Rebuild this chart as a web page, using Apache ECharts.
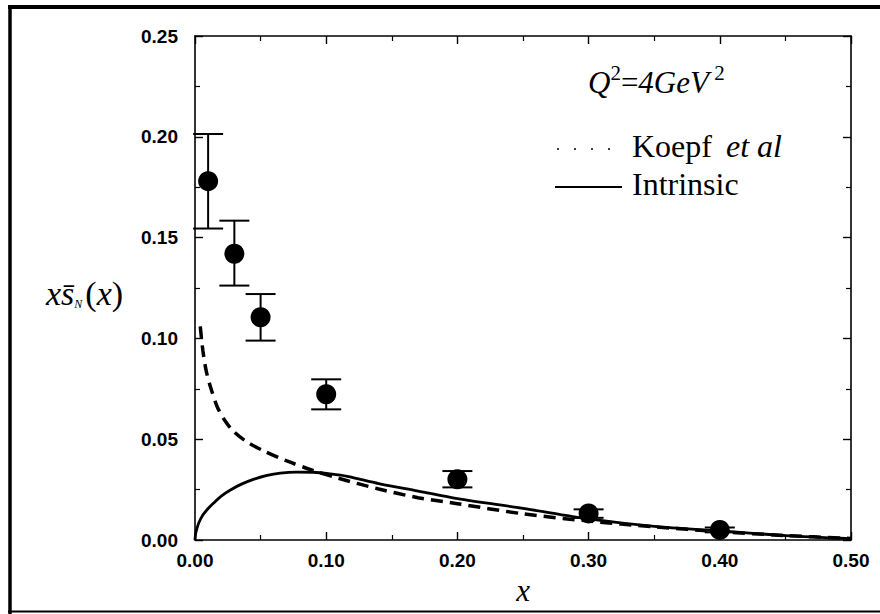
<!DOCTYPE html>
<html>
<head>
<meta charset="utf-8">
<script src="https://cdn.jsdelivr.net/npm/echarts@6/dist/echarts.min.js"></script>
<style>html,body{margin:0;padding:0;background:#fff;}#c{width:880px;height:614px;}</style>
</head>
<body>
<div id="c"></div>
<script>
// Data points with error bars
const dataX = [0.01, 0.03, 0.05, 0.10, 0.20, 0.30, 0.40];
const dataY = [0.178, 0.142, 0.1105, 0.0723, 0.0301, 0.0132, 0.005];
const errLow = [0.1545, 0.1262, 0.0989, 0.0648, 0.0261, 0.0110, 0.0038];
const errHigh = [0.2014, 0.1584, 0.1220, 0.0797, 0.0342, 0.0152, 0.0062];

// Koepf et al (dashed)
const koepfX = [0.004, 0.006, 0.0085, 0.012, 0.017, 0.023, 0.03, 0.04, 0.052, 0.07, 0.09, 0.11, 0.14, 0.17, 0.20, 0.25, 0.30, 0.35, 0.40, 0.45, 0.50];
const koepfY = [0.106, 0.094, 0.084, 0.0755, 0.066, 0.059, 0.0535, 0.0485, 0.0443, 0.0392, 0.0345, 0.0305, 0.0253, 0.021, 0.018, 0.013, 0.0094, 0.0065, 0.0042, 0.0022, 0.0008];

// Intrinsic (solid)
const intrX = [0, 0.0005, 0.0015, 0.003, 0.006, 0.01, 0.014, 0.02, 0.027, 0.035, 0.045, 0.055, 0.065, 0.077, 0.09, 0.103, 0.116, 0.14, 0.17, 0.20, 0.25, 0.30, 0.35, 0.40, 0.45, 0.50];
const intrY = [0, 0.0032, 0.0058, 0.0087, 0.0124, 0.0156, 0.0182, 0.0218, 0.0248, 0.0276, 0.0302, 0.0321, 0.0332, 0.0337, 0.0336, 0.0328, 0.0316, 0.028, 0.0243, 0.0205, 0.0157, 0.0105, 0.0068, 0.0045, 0.0022, 0.0007];

// Axis ticks
const xTicks = ['0.00', '0.10', '0.20', '0.30', '0.40', '0.50'];
const yTicks = ['0.00', '0.05', '0.10', '0.15', '0.20', '0.25'];

const legendTitle = '{i|Q}{sup|2}{n|=}{i|4GeV}{sup| 2}';
const legendNames = ['Koepf', 'Intrinsic'];

const zip = (a, b) => a.map((v, i) => [v, b[i]]);

const chart = echarts.init(document.getElementById('c'), null, {renderer: 'svg'});

const tickFont = {fontFamily: 'Liberation Sans, Arial, sans-serif', fontWeight: 'bold', fontSize: 19, color: '#000'};
const axisCommon = {
  type: 'value',
  axisLine: {show: true, onZero: false, lineStyle: {color: '#000', width: 1.6}},
  axisTick: {show: true, inside: true, length: 8, lineStyle: {color: '#000', width: 1.4}},
  minorTick: {show: true, splitNumber: 2, length: 5, lineStyle: {color: '#000', width: 1.2}},
  splitLine: {show: false}
};

const option = {
  animation: false,
  backgroundColor: '#fff',
  grid: {left: 195, right: 29, top: 36, bottom: 74, containLabel: false},
  xAxis: [
    Object.assign({}, axisCommon, {
      min: 0, max: 0.5, interval: 0.1, position: 'bottom',
      axisLabel: Object.assign({}, tickFont, {margin: 11, formatter: (v) => xTicks[Math.round(v / 0.1)]}),
      name: 'x', nameLocation: 'middle', nameGap: 35,
      nameTextStyle: {fontFamily: 'Liberation Serif, Times New Roman, serif', fontStyle: 'italic', fontSize: 31, color: '#000'}
    }),
    Object.assign({}, axisCommon, {
      min: 0, max: 0.5, interval: 0.1, position: 'top', axisLabel: {show: false}
    })
  ],
  yAxis: [
    Object.assign({}, axisCommon, {
      min: 0, max: 0.25, interval: 0.05, position: 'left',
      axisLabel: Object.assign({}, tickFont, {margin: 17, formatter: (v) => yTicks[Math.round(v / 0.05)]})
    }),
    Object.assign({}, axisCommon, {
      min: 0, max: 0.25, interval: 0.05, position: 'right', axisLabel: {show: false}
    })
  ],
  series: [
    {
      name: legendNames[0], type: 'line', data: zip(koepfX, koepfY),
      showSymbol: false, smooth: 0.3,
      lineStyle: {color: '#000', width: 3.5, type: [12, 7]}, z: 3
    },
    {
      name: legendNames[1], type: 'line', data: zip(intrX, intrY),
      showSymbol: false, smooth: 0.3,
      lineStyle: {color: '#000', width: 2.8, type: 'solid'}, z: 3
    },
    {
      type: 'custom',
      data: dataX.map((x, i) => [x, errLow[i], errHigh[i]]),
      renderItem: function (params, api) {
        const x = api.value(0);
        const lo = api.coord([x, api.value(1)]);
        const hi = api.coord([x, api.value(2)]);
        const hw = 15;
        const st = {stroke: '#000', lineWidth: 2};
        return {
          type: 'group',
          children: [
            {type: 'line', shape: {x1: lo[0], y1: lo[1], x2: hi[0], y2: hi[1]}, style: st},
            {type: 'line', shape: {x1: lo[0] - hw, y1: lo[1], x2: lo[0] + hw, y2: lo[1]}, style: st},
            {type: 'line', shape: {x1: hi[0] - hw, y1: hi[1], x2: hi[0] + hw, y2: hi[1]}, style: st}
          ]
        };
      },
      z: 4
    },
    {
      type: 'scatter', data: zip(dataX, dataY), symbol: 'circle', symbolSize: 20,
      itemStyle: {color: '#000', opacity: 1}, z: 5
    }
  ],
  graphic: [
    // outer frame
    {type: 'line', shape: {x1: 8, y1: 7, x2: 880, y2: 7}, style: {stroke: '#000', lineWidth: 4}},
    {type: 'line', shape: {x1: 10, y1: 5, x2: 10, y2: 614}, style: {stroke: '#000', lineWidth: 3.5}},
    {type: 'line', shape: {x1: 8, y1: 611.5, x2: 880, y2: 611.5}, style: {stroke: '#000', lineWidth: 2}},
    // y-axis label
    {
      type: 'text', left: 46, top: 276,
      style: {
        text: '{i|x}{i|s\u0304}{s|N}{n|(}{i|x}{n|)}',
        rich: {
          i: {fontFamily: 'Liberation Serif, serif', fontStyle: 'italic', fontSize: 34, fill: '#000', verticalAlign: 'bottom', lineHeight: 38},
          n: {fontFamily: 'Liberation Serif, serif', fontSize: 34, fill: '#000', verticalAlign: 'bottom', lineHeight: 38},
          s: {fontFamily: 'Liberation Serif, serif', fontStyle: 'italic', fontSize: 12, fill: '#000', verticalAlign: 'bottom', lineHeight: 38, padding: [0, 3, 0, 0]}
        }
      }
    },
    // legend title
    {
      type: 'text', left: 588, top: 62,
      style: {
        text: legendTitle,
        rich: {
          i: {fontFamily: 'Liberation Serif, serif', fontStyle: 'italic', fontSize: 31, fill: '#000', verticalAlign: 'bottom', lineHeight: 36},
          n: {fontFamily: 'Liberation Serif, serif', fontSize: 31, fill: '#000', verticalAlign: 'bottom', lineHeight: 36},
          sup: {fontFamily: 'Liberation Serif, serif', fontSize: 21, fill: '#000', verticalAlign: 'top', lineHeight: 36}
        }
      }
    },
    // legend entries
    {type: 'line', shape: {x1: 557, y1: 149, x2: 620, y2: 149}, style: {stroke: '#000', lineWidth: 1.5, lineDash: [2, 15]}},
    {
      type: 'text', left: 632, top: 130,
      style: {
        text: '{n|Koepf }{i|et al}',
        rich: {
          i: {fontFamily: 'Liberation Serif, serif', fontStyle: 'italic', fontSize: 32, fill: '#000'},
          n: {fontFamily: 'Liberation Serif, serif', fontSize: 32, fill: '#000', padding: [0, 6, 0, 0]}
        }
      }
    },
    {type: 'line', shape: {x1: 555, y1: 187, x2: 622, y2: 187}, style: {stroke: '#000', lineWidth: 2}},
    {
      type: 'text', left: 632, top: 168,
      style: {text: 'Intrinsic', fontFamily: 'Liberation Serif, serif', fontSize: 32, fill: '#000'}
    }
  ]
};
chart.setOption(option);
</script>
</body>
</html>
